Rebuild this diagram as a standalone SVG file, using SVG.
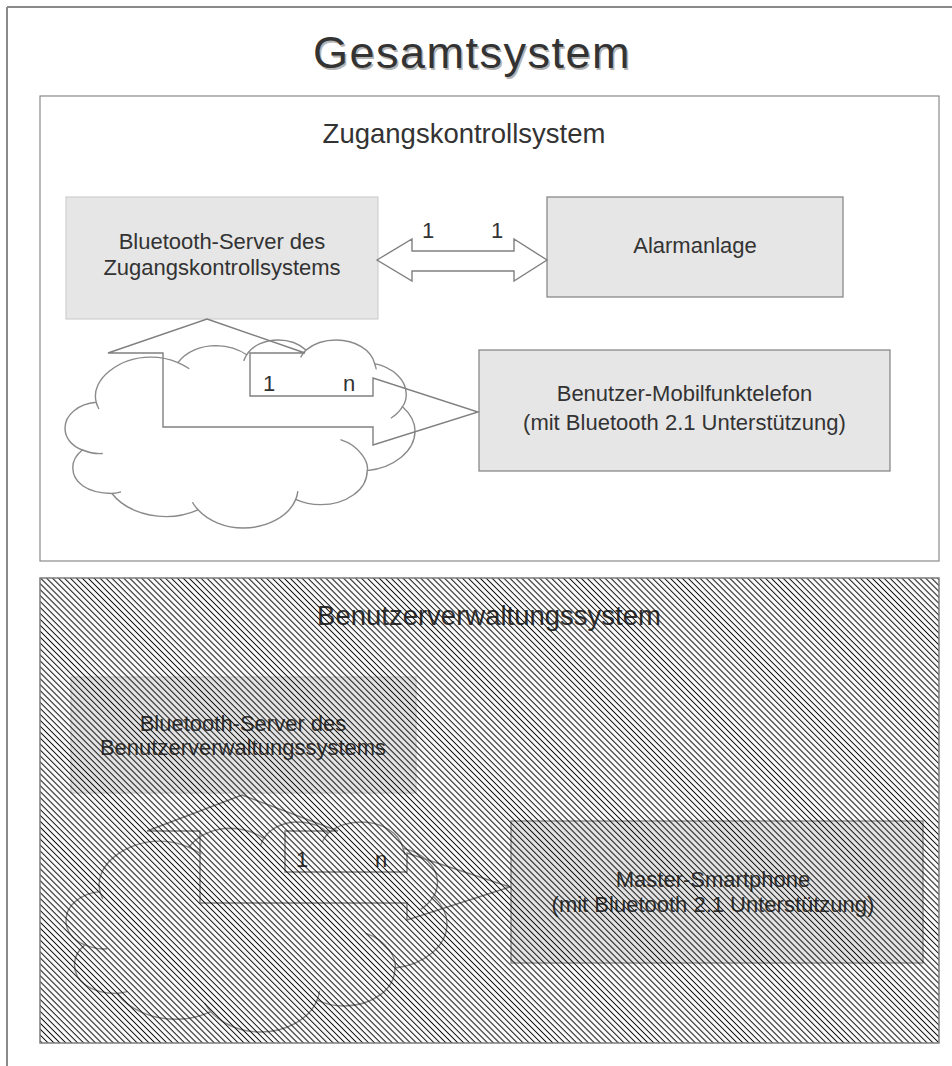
<svg xmlns="http://www.w3.org/2000/svg" width="952" height="1066" viewBox="0 0 952 1066">
  <style>
    text { font-family: "Liberation Sans", Arial, sans-serif; fill: #333; }
    .title { font-size: 45px; letter-spacing: 1.5px; text-anchor: middle; }
    .shadow { fill: #b4b4b4; }
    .section { font-size: 27.5px; text-anchor: middle; }
    .label { font-size: 22px; text-anchor: middle; }
    .card { fill: #e6e6e6; stroke: #808080; stroke-width: 1.2; }
    .card-light { fill: #e6e6e6; stroke: #cfcfcf; stroke-width: 1.2; }
    .frame { fill: #fff; stroke: #8a8a8a; stroke-width: 1.2; }
    .line { fill: none; stroke: #808080; stroke-width: 1.4; stroke-linejoin: miter; }
    .cloud { fill: none; stroke: #8a8a8a; stroke-width: 1.4; }
  </style>
  <defs>
    <pattern id="hatch" patternUnits="userSpaceOnUse" width="4.2" height="4.2" patternTransform="rotate(45)">
      <line x1="0" y1="2.1" x2="4.2" y2="2.1" stroke="#111" stroke-width="1.05"/>
    </pattern>
  </defs>

  <rect width="952" height="1066" fill="#fff"/>

  <!-- page frame -->
  <g id="page-frame">
    <line x1="7" y1="7" x2="952" y2="7" stroke="#8a8a8a" stroke-width="2"/>
    <line x1="7" y1="7" x2="7" y2="1066" stroke="#8a8a8a" stroke-width="2"/>
  </g>

  <g id="title">
    <text class="title shadow" x="473.5" y="69.5">Gesamtsystem</text>
    <text class="title" x="472" y="68">Gesamtsystem</text>
  </g>

  <!-- access control section -->
  <g id="zugangskontrollsystem">
    <rect class="frame" x="40" y="96" width="899" height="465"/>
    <text class="section" x="464" y="143">Zugangskontrollsystem</text>
  </g>

  <!-- clouds: outline and inner hint arcs, drawn in 21600-unit space -->
  <g id="cloud-zks">
    <g transform="translate(65,340) scale(0.0162037,0.0087037)">
      <path class="cloud" vector-effect="non-scaling-stroke" d="M1930,7160 C1530,4490 3400,1970 5270,1970 C5860,1950 6470,2210 6970,2600 C7450,1390 8340,650 9340,650 C10004,690 10710,1050 11210,1700 C11570,630 12330,0 13150,0 C13840,0 14470,460 14870,1160 C15330,440 16020,0 16740,0 C17910,0 18900,1130 19110,2710 C20240,3150 21060,4580 21060,6220 C21060,6720 21000,7200 20830,7660 C21310,8460 21600,9450 21600,10460 C21600,12750 20310,14680 18650,15010 C18650,17200 17370,18920 15770,18920 C15220,18920 14700,18710 14240,18310 C13820,20240 12490,21600 11000,21600 C9890,21600 8840,20790 8210,19510 C7620,20000 6930,20290 6240,20290 C4850,20290 3570,19280 2900,17640 C1300,17600 480,16300 480,14660 C480,13900 690,13210 1070,12640 C380,12160 0,11210 0,10120 C0,8590 840,7330 1930,7160 Z"/>
      <path class="cloud" vector-effect="non-scaling-stroke" d="M1930,7160 C1950,7410 2040,7690 2090,7920 M6970,2600 C7200,2790 7480,3050 7670,3310 M11210,1700 C11130,1910 11080,2160 11030,2400 M14870,1160 C14720,1400 14640,1720 14540,2010 M19110,2710 C19130,2890 19230,3290 19190,3380 M20830,7660 C20660,8170 20430,8620 20110,8990 M18660,15010 C18740,14200 18280,12200 17000,11450 M14240,18310 C14320,17980 14350,17680 14370,17360 M8220,19510 C8060,19250 7960,18950 7860,18640 M2900,17640 C3090,17600 3280,17540 3460,17450 M1070,12640 C1400,12900 1780,13130 2330,13040"/>
    </g>
  </g>

  <g id="bt-server-zks">
    <rect class="card-light" x="66" y="197" width="312" height="122"/>
    <text class="label" x="222" y="249">Bluetooth-Server des</text>
    <text class="label" x="222" y="275">Zugangskontrollsystems</text>
  </g>

  <g id="alarmanlage">
    <rect class="card" x="547" y="197" width="296" height="100"/>
    <text class="label" x="695" y="253">Alarmanlage</text>
  </g>

  <g id="mobilfunktelefon">
    <rect class="card" x="479" y="350" width="411" height="121"/>
    <text class="label" x="684.5" y="401">Benutzer-Mobilfunktelefon</text>
    <text class="label" x="684.5" y="430">(mit Bluetooth 2.1 Unterstützung)</text>
  </g>

  <!-- user management section -->
  <g id="benutzerverwaltungssystem">
    <rect class="frame" x="40" y="578" width="899" height="465"/>
    <text class="section" x="489" y="625">Benutzerverwaltungssystem</text>
  </g>

  <g id="cloud-bvs">
    <g transform="translate(66,822) scale(0.0176389,0.0097222)">
      <path class="cloud" vector-effect="non-scaling-stroke" d="M1930,7160 C1530,4490 3400,1970 5270,1970 C5860,1950 6470,2210 6970,2600 C7450,1390 8340,650 9340,650 C10004,690 10710,1050 11210,1700 C11570,630 12330,0 13150,0 C13840,0 14470,460 14870,1160 C15330,440 16020,0 16740,0 C17910,0 18900,1130 19110,2710 C20240,3150 21060,4580 21060,6220 C21060,6720 21000,7200 20830,7660 C21310,8460 21600,9450 21600,10460 C21600,12750 20310,14680 18650,15010 C18650,17200 17370,18920 15770,18920 C15220,18920 14700,18710 14240,18310 C13820,20240 12490,21600 11000,21600 C9890,21600 8840,20790 8210,19510 C7620,20000 6930,20290 6240,20290 C4850,20290 3570,19280 2900,17640 C1300,17600 480,16300 480,14660 C480,13900 690,13210 1070,12640 C380,12160 0,11210 0,10120 C0,8590 840,7330 1930,7160 Z"/>
      <path class="cloud" vector-effect="non-scaling-stroke" d="M1930,7160 C1950,7410 2040,7690 2090,7920 M6970,2600 C7200,2790 7480,3050 7670,3310 M11210,1700 C11130,1910 11080,2160 11030,2400 M14870,1160 C14720,1400 14640,1720 14540,2010 M19110,2710 C19130,2890 19230,3290 19190,3380 M20830,7660 C20660,8170 20430,8620 20110,8990 M18660,15010 C18740,14200 18280,12200 17000,11450 M14240,18310 C14320,17980 14350,17680 14370,17360 M8220,19510 C8060,19250 7960,18950 7860,18640 M2900,17640 C3090,17600 3280,17540 3460,17450 M1070,12640 C1400,12900 1780,13130 2330,13040"/>
    </g>
  </g>

  <g id="bt-server-bvs">
    <rect class="card-light" x="71" y="677" width="345" height="116"/>
    <text class="label" x="243" y="731">Bluetooth-Server des</text>
    <text class="label" x="243" y="755">Benutzerverwaltungssystems</text>
  </g>

  <g id="master-smartphone">
    <rect class="card" x="511" y="821" width="412" height="142"/>
    <text class="label" x="713" y="887">Master-Smartphone</text>
    <text class="label" x="713" y="912">(mit Bluetooth 2.1 Unterstützung)</text>
  </g>

  <!-- connectors -->
  <g id="connectors">
    <polygon class="line" points="377,260 412,239 412,251 514,251 514,239 547,260 514,281 514,271 412,271 412,281"/>
    <text class="label" x="428" y="238">1</text>
    <text class="label" x="497" y="238">1</text>

    <polygon class="line" points="207,319 305,353 250,353 250,396 373,396 373,378 478,412 373,445 373,427 163,427 163,353 108,353"/>
    <text class="label" x="269" y="391">1</text>
    <text class="label" x="349" y="391">n</text>

    <polygon class="line" points="242,795 338,831 285,831 285,872 407,872 407,853 510,887 407,920 407,903 200,903 200,831 147,831"/>
    <text class="label" x="302" y="867">1</text>
    <text class="label" x="381" y="867">n</text>
  </g>

  <!-- hatch laid over the whole user management section -->
  <g id="bvs-hatch">
    <rect x="40" y="578" width="899" height="465" fill="url(#hatch)" stroke="#8a8a8a" stroke-width="1.2"/>
  </g>
</svg>
